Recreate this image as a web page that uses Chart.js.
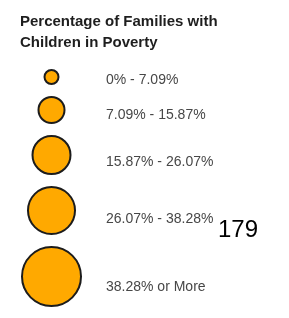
<!DOCTYPE html>
<html>
<head>
<meta charset="utf-8">
<script src="https://cdn.jsdelivr.net/npm/chart.js@4/dist/chart.umd.min.js"></script>
<style>
  html, body { margin: 0; padding: 0; background: #ffffff; }
  #wrap { width: 289px; height: 318px; position: relative; }
</style>
</head>
<body>
<div id="wrap"><canvas id="c" width="289" height="318"></canvas></div>
<script>
// ---- data ----
const titleLines = ['Percentage of Families with', 'Children in Poverty'];
const categories = ['0% - 7.09%', '7.09% - 15.87%', '15.87% - 26.07%', '26.07% - 38.28%', '38.28% or More'];
const bubbleRadii = [7, 13, 19, 23.5, 29.5];
const strayNumber = '179';

// ---- layout (derived from radii: circles stacked vertically) ----
const W = 289, H = 318;
const firstY = 77, stackGap = 11, circleX = 51.5;
const ys = [];
categories.forEach((c, i) => {
  if (i === 0) ys.push(firstY);
  else ys.push(ys[i - 1] + bubbleRadii[i - 1] + bubbleRadii[i] + 2 + stackGap);
});
const points = categories.map((c, i) => ({ x: circleX, y: ys[i], r: bubbleRadii[i] }));

const textPlugin = {
  id: 'legendText',
  afterDatasetsDraw(chart) {
    const ctx = chart.ctx;
    ctx.save();
    ctx.textBaseline = 'alphabetic';
    ctx.textAlign = 'left';
    // title
    ctx.fillStyle = '#1e1e1e';
    ctx.font = 'bold 15px "Liberation Sans", Arial, sans-serif';
    ctx.fillText(titleLines[0], 20, 25.5);
    ctx.fillText(titleLines[1], 20, 47);
    // category labels
    ctx.fillStyle = '#474747';
    ctx.font = '14px "Liberation Sans", Arial, sans-serif';
    chart.getDatasetMeta(0).data.forEach((el, i) => {
      const r = bubbleRadii[i];
      ctx.fillText(categories[i], 106, el.y + 0.33 * r + 5);
    });
    // stray number
    ctx.fillStyle = '#000000';
    ctx.font = '24px "Liberation Sans", Arial, sans-serif';
    const el4 = chart.getDatasetMeta(0).data[3];
    ctx.fillText(strayNumber, 218, el4.y + 26.5);
    ctx.restore();
  }
};

new Chart(document.getElementById('c'), {
  type: 'bubble',
  data: {
    labels: categories,
    datasets: [{
      data: points,
      backgroundColor: '#FFA900',
      borderColor: '#1c1c1c',
      borderWidth: 2,
      hoverBorderWidth: 2
    }]
  },
  options: {
    responsive: false,
    animation: false,
    events: [],
    layout: { padding: 0, autoPadding: false },
    plugins: { legend: { display: false }, title: { display: false }, tooltip: { enabled: false } },
    scales: {
      x: { type: 'linear', min: 0, max: W, display: false },
      y: { type: 'linear', min: 0, max: H, reverse: true, display: false }
    }
  },
  plugins: [textPlugin]
});
</script>
</body>
</html>
